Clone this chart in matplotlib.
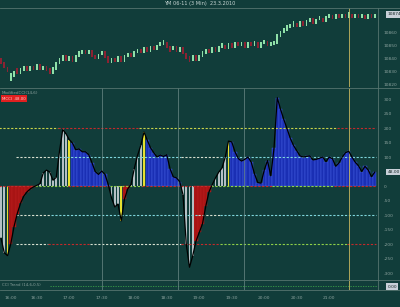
import matplotlib
matplotlib.use("Agg")
import matplotlib.pyplot as plt
import numpy as np

# price bars (3 min), YM 06-11
opens = [10840, 10837, 10833, 10823, 10826, 10832, 10829, 10831, 10834, 10831,
         10834, 10832, 10835, 10832, 10834, 10832, 10829, 10832, 10836, 10839,
         10842, 10839, 10841, 10838, 10842, 10844, 10846, 10844, 10846, 10842,
         10840, 10843, 10845, 10841, 10837, 10840, 10838, 10841, 10838, 10842,
         10844, 10842, 10845, 10847, 10845, 10848, 10846, 10849, 10847, 10850,
         10851, 10852, 10849, 10847, 10849, 10846, 10848, 10844, 10841, 10839,
         10842, 10839, 10842, 10844, 10847, 10845, 10848, 10846, 10849, 10850,
         10848, 10851, 10849, 10852, 10850, 10852, 10849, 10852, 10850, 10852,
         10849, 10852, 10853, 10850, 10851, 10852, 10857, 10860, 10862, 10864,
         10865, 10867, 10865, 10868, 10866, 10869, 10871, 10867, 10870, 10871,
         10869, 10872, 10873, 10871, 10874, 10872, 10874, 10872, 10874, 10872,
         10874, 10872, 10873, 10871, 10874, 10872]
closes = [10836, 10833, 10830, 10828, 10830, 10829, 10832, 10834, 10831, 10834,
          10832, 10835, 10832, 10834, 10831, 10829, 10833, 10837, 10840, 10842,
          10839, 10841, 10838, 10842, 10845, 10846, 10844, 10846, 10842, 10840,
          10843, 10845, 10841, 10837, 10840, 10838, 10841, 10838, 10842, 10844,
          10842, 10845, 10847, 10845, 10848, 10846, 10849, 10847, 10850, 10852,
          10854, 10849, 10846, 10849, 10846, 10848, 10844, 10840, 10838, 10842,
          10839, 10842, 10845, 10847, 10845, 10848, 10846, 10849, 10851, 10848,
          10851, 10849, 10852, 10850, 10852, 10849, 10852, 10850, 10853, 10849,
          10852, 10854, 10850, 10852, 10853, 10858, 10861, 10863, 10865, 10866,
          10868, 10865, 10868, 10866, 10869, 10871, 10867, 10870, 10872, 10869,
          10872, 10874, 10871, 10874, 10872, 10874, 10872, 10875, 10872, 10874,
          10872, 10874, 10871, 10874, 10872, 10874]

# oscillator values and bar colour class
osc = [-180, -230, -240, -200, -140, -95, -60, -35, -20, -10,
       -3, 2, 8, 45, 55, 48, 20, 30, 120, 195,
       180, 160, 148, 125, 128, 118, 118, 108, 80, 50,
       40, 52, 40, 5, -40, -72, -62, -120, -45, -10,
       5, 60, 105, 140, 186, 158, 132, 115, 100, 107,
       102, 108, 60, 32, 28, 15, -30, -200, -280, -240,
       -190, -160, -130, -70, -20, 5, 28, 48, 62, 100,
       155, 152, 118, 95, 86, 92, 100, 82, 42, 12,
       10, 55, 88, 35, 130, 305, 265, 230, 198, 165,
       140, 122, 104, 100, 102, 104, 90, 92, 96, 100,
       84, 100, 94, 68, 80, 100, 115, 120, 100, 82,
       70, 50, 68, 55, 32, 48]
osc_cls = ("GGYRRRRRRRR" + "GGGGGGGGGGY" + "BBBBBBBBBBBB" + "GGGYRR" + "GGGGY"
           + "BBBBBBBBBBB" + "GGGG" + "RRRRR" + "GGGGGY" + "B" * 45)

levels = [200, 100, 0, -100, -200]
# (first bar, last bar, colour) pieces of each level line
level_pieces = {
    200: [(0, 18, 'y'), (18, 43, 'r'), (43, 104, 'y'), (104, 116, 'r')],
    100: [(5, 17, 'w'), (17, 56, 'c'), (56, 68, 'w'), (68, 116, 'c')],
    0: [(0, 11, 'r'), (11, 21, 'g'), (21, 34, 'r'), (34, 44, 'g'), (44, 65, 'r'),
        (65, 77, 'g'), (77, 84, 'r'), (84, 103, 'g'), (103, 116, 'r')],
    -100: [(5, 16, 'w'), (16, 61, 'c'), (61, 68, 'w'), (68, 116, 'c')],
    -200: [(5, 15, 'w'), (15, 28, 'r'), (28, 56, 'w'), (56, 68, 'r'),
           (68, 107, 'g'), (107, 116, 'r')],
}

time_pos = [1, 11, 21, 31, 41, 51, 61, 71, 81, 91, 101]
time_labels = ['16:00', '16:30', '17:00', '17:30', '18:00', '18:30',
               '19:00', '19:30', '20:00', '20:30', '21:00']
price_ticks = [10820, 10830, 10840, 10850, 10860]
osc_ticks = [300, 250, 200, 150, 100, 50, 0, -50, -100, -150, -200, -250, -300]

bg = '#113d3a'
sep = '#56756f'
txt = '#8aa19d'
lvl_col = {'y': '#c9d24a', 'r': '#c42a2a', 'w': '#d8e0d0', 'c': '#7fd6dc', 'g': '#8fd048'}
bar_col = {'G': '#b4c0c4', 'B': '#1a2fb4', 'R': '#a81414', 'Y': '#e6e030'}

W, H = 400, 307
fig = plt.figure(figsize=(4.0, 3.07), dpi=100, facecolor=bg)
x = np.arange(len(closes))
xlim = (-0.31, 116.0)
right = 378 / W


def px_axes(top, bottom):
    ax = fig.add_axes([0, 1 - bottom / H, right, (bottom - top) / H], facecolor=bg)
    ax.set_xlim(*xlim)
    for s in ax.spines.values():
        s.set_visible(False)
    ax.tick_params(length=0, labelsize=3.2, colors=txt, pad=4)
    ax.yaxis.tick_right()
    ax.set_xticks([])
    return ax


# price panel
ax1 = px_axes(8, 87)
ax1.set_ylim(10818, 10879)
o = np.array(opens)
c = np.array(closes)
up = c >= o
ax1.bar(x, np.abs(c - o) + 1.2, bottom=np.minimum(o, c) - 0.6, width=0.6,
        color=np.where(up, '#8fe0a8', '#8c2232'), linewidth=0)
ax1.set_yticks(price_ticks)
ax1.set_yticklabels([str(v) for v in price_ticks])
ax1.text(1.025, (closes[-1] - 10818) / (10879 - 10818), str(closes[-1]),
         transform=ax1.transAxes, fontsize=3.2, color='#1a2a2a', va='center',
         bbox=dict(boxstyle='square,pad=0.25', fc='#c8d0d8', ec='none'))
ax1.axvline(107.1, color='#c8b860', lw=0.6)

# oscillator panel
ax2 = px_axes(88, 280)
ax2.set_ylim(-324, 338)
for lv in levels:
    for a, b, k in level_pieces[lv]:
        ax2.plot([a - 0.5, b - 0.5], [lv, lv], color=lvl_col[k], lw=0.8,
                 linestyle=(0, (2, 1.5)))
for g in (31.1, 54.5, 74.8):
    ax2.axvline(g, color='#6d8c88', lw=0.5)
ax2.axvline(107.1, color='#c8b860', lw=0.6)
vals = np.array(osc)
cls = list(osc_cls)
for k in 'BR':
    m = np.array([q == k for q in cls])
    ax2.bar(x[m], vals[m], width=1.0, color=bar_col[k],
            edgecolor='#4a64e8' if k == 'B' else '#c02020', linewidth=0.3)
for k, w in (('G', 0.55), ('Y', 0.6)):
    m = np.array([q == k for q in cls])
    ax2.bar(x[m], vals[m], width=w, color=bar_col[k], linewidth=0)
ax2.plot(x, vals, color='black', lw=0.9)
ax2.set_yticks(osc_ticks)
# the value box covers the 50 label
ax2.set_yticklabels(['' if v == 50 else str(v) for v in osc_ticks])
ax2.text(1.025, (osc[-1] + 324) / 662, '%.2f' % osc[-1], transform=ax2.transAxes,
         fontsize=3.2, color='#1a2a2a', va='center',
         bbox=dict(boxstyle='square,pad=0.25', fc='#c8d0d8', ec='none'))
ax2.text(0.005, 0.985, 'ModifiedCCI(14,6)', transform=ax2.transAxes,
         fontsize=3.0, color=txt, va='top')
ax2.text(0.005, 0.955, 'MCCI  48.00', transform=ax2.transAxes, fontsize=2.8,
         color='#ffd0d0', va='top',
         bbox=dict(boxstyle='square,pad=0.3', fc='#e02020', ec='none'))

# small bottom panel
ax3 = px_axes(280, 290)
ax3.set_ylim(-1, 1)
ax3.set_yticks([])
ax3.plot([15, 116], [-0.2, -0.2], color='#3aa048', lw=0.6, linestyle=(0, (1.5, 1.5)))
for g in (31.1, 54.5, 74.8):
    ax3.axvline(g, color='#6d8c88', lw=0.5)
ax3.axvline(107.1, color='#c8b860', lw=0.6)
ax3.text(0.005, 0.5, 'CCI Trend (14,6,0.5)', transform=ax3.transAxes,
         fontsize=2.8, color=txt, va='center')
ax3.text(1.025, 0.35, '0.00', transform=ax3.transAxes, fontsize=3.2,
         color='#1a2a2a', va='center',
         bbox=dict(boxstyle='square,pad=0.25', fc='#c8d0d8', ec='none'))
ax3.set_xticks(time_pos)
ax3.set_xticklabels(time_labels)
ax3.get_xticklabels()[0].set_ha('left')
ax3.get_xticklabels()[0].set_x(-0.2)

# panel separators
for yy in (8, 87.5, 280, 290):
    fig.add_artist(plt.Line2D([0, 1], [1 - yy / H, 1 - yy / H], color=sep, lw=0.6))
fig.add_artist(plt.Line2D([right, right], [1 - 290 / H, 1 - 8 / H], color=sep, lw=0.6))
fig.text(0.5, 1 - 4 / H, 'YM 06-11 (3 Min)  23.3.2010', ha='center', va='center',
         fontsize=3.6, color='#c8d6d4')

fig.savefig('out.png', dpi=100, facecolor=bg)
